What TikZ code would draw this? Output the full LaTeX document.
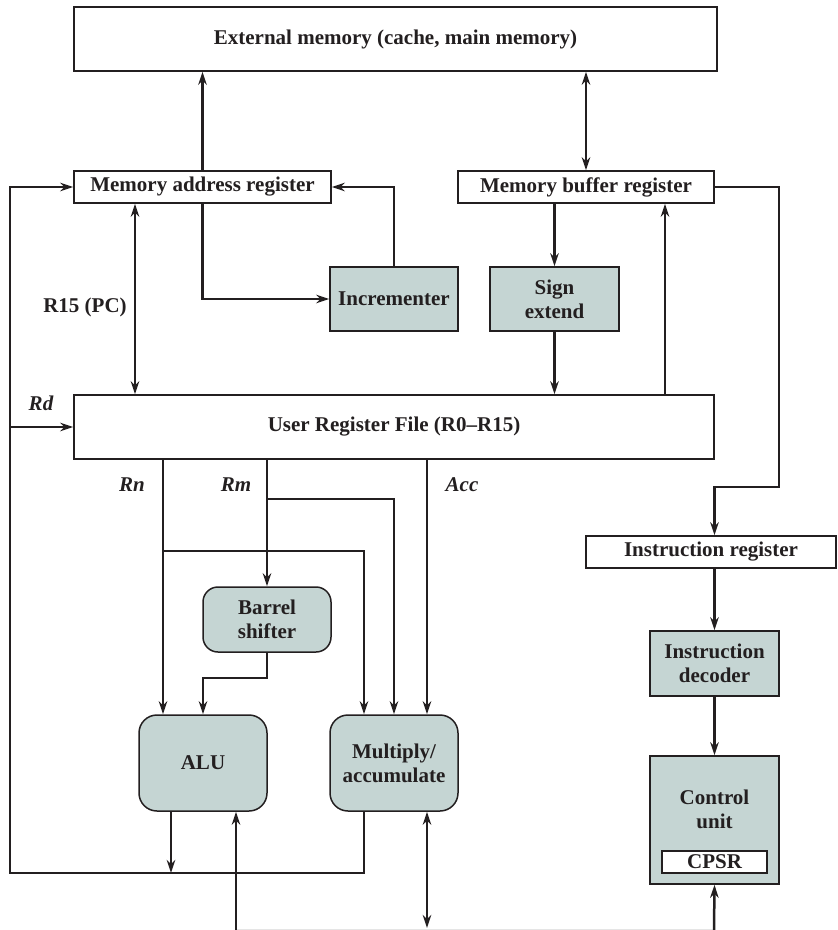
\documentclass[tikz,border=0pt]{standalone}
\usepackage{fontspec}
\setmainfont{Liberation Serif}
\usepackage{tikz}
\usetikzlibrary{arrows.meta}

\definecolor{ink}{RGB}{35,31,32}
\definecolor{unitfill}{RGB}{197,213,211}

\begin{document}
\begin{tikzpicture}[
    x=0.5pt, y=-0.5pt,
    >={Stealth[length=6.5pt, width=4.2pt, inset=2pt]},
    reg/.style={draw=ink, line width=0.75pt, fill=white, inner sep=0pt, text=ink, align=center, font=\bfseries\fontsize{10.5}{12}\selectfont},
    unit/.style={reg, fill=unitfill},
    rounit/.style={unit, rounded corners=9pt},
    wire/.style={draw=ink, line width=1.25pt},
    arr/.style={wire, ->},
    dbl/.style={wire, <->},
    lbl/.style={text=ink, font=\bfseries\itshape\fontsize{10.5}{12}\selectfont}
]

\useasboundingbox (0,0) rectangle (837,930);

% Memory side
\node[reg, minimum width=321.5pt, minimum height=32pt] (extmem) at (395.5,39) {External memory (cache, main memory)};
\node[reg, minimum width=128.5pt, minimum height=16pt] (mar) at (202.5,187) {Memory address register};
\node[reg, minimum width=128pt, minimum height=16pt] (mbr) at (586,187) {Memory buffer register};
\node[unit, minimum width=64pt, minimum height=32pt] (incr) at (394,299) {Incrementer};
\node[unit, minimum width=64.5pt, minimum height=32pt] (signext) at (554.5,299) {Sign\\extend};

% Register file
\node[reg, minimum width=320pt, minimum height=32pt] (urf) at (394,427) {User Register File (R0--R15)};

% Datapath units
\node[rounit, rounded corners=7.5pt, minimum width=64pt, minimum height=32.5pt] (barrel) at (267,619.5) {Barrel\\shifter};
\node[rounit, minimum width=64pt, minimum height=48pt] (alu) at (203,763) {ALU};
\node[rounit, minimum width=64pt, minimum height=48pt] (mac) at (394,763) {Multiply/\\accumulate};

% Control side
\node[reg, minimum width=125pt, minimum height=16pt] (ir) at (711,552) {Instruction register};
\node[unit, minimum width=64.5pt, minimum height=32.5pt] (decoder) at (714.5,663.5) {Instruction\\decoder};
\node[unit, minimum width=64.5pt, minimum height=64pt] (ctrl) at (714.5,820) {};
\node[text=ink, align=center, font=\bfseries\fontsize{10.5}{12}\selectfont] (ctrltext) at (714.5,809) {Control\\unit};
\node[reg, minimum width=52.5pt, minimum height=11pt] (cpsr) at (714.5,862) {CPSR};

% Bus labels
\node[text=ink, font=\bfseries\fontsize{10.5}{12}\selectfont] (pclabel) at (85,307) {R15 (PC)};
\node[lbl] (rdlabel) at (41,403) {Rd};
\node[lbl] (rnlabel) at (132,485) {Rn};
\node[lbl] (rmlabel) at (236,485) {Rm};
\node[lbl] (acclabel) at (462,485) {Acc};

% Helper points
\coordinate (fbcorner) at (10,873);
\coordinate (mbrturn) at (779,487);
\coordinate (rnsplit) at (163,551);
\coordinate (rmsplit) at (267,499);
\coordinate (busleft) at (236,930);
\coordinate (busright) at (714,930);

% Memory paths
\draw[arr] (mar.north) -- (mar.north |- extmem.south);
\draw[dbl] (mbr.north) -- (mbr.north |- extmem.south);
\draw[arr] (mar.south) |- (incr.west);
\draw[arr] (incr.north) |- (mar.east);
\draw[arr] (mbr.south -| signext.north) -- (signext.north);
\draw[arr] (signext.south) -- (signext.south |- urf.north);
\draw[arr] ([xshift=39.5pt]mbr.south |- urf.north) -- ([xshift=39.5pt]mbr.south);
\draw[dbl] ([xshift=-33.75pt]mar.south) -- ([xshift=-33.75pt]mar.south |- urf.north);

% Result feedback into the register file
\draw[arr] ([xshift=-15pt]mac.south) |- (fbcorner) |- (mar.west);
\draw[arr] (fbcorner |- urf.west) -- (urf.west);
\draw[arr] ([xshift=-16pt]alu.south) -- ([xshift=-16pt]alu.south |- fbcorner);

% Operand buses
\draw[arr] ([xshift=-20pt]alu.north |- urf.south) -- ([xshift=-20pt]alu.north);
\draw[arr] (rnsplit) -| ([xshift=-15pt]mac.north);
\draw[arr] (barrel.north |- urf.south) -- (barrel.north);
\draw[arr] (rmsplit) -| (mac.north);
\draw[arr] ([xshift=16.5pt]mac.north |- urf.south) -- ([xshift=16.5pt]mac.north);
\draw[arr] (barrel.south) -- ++(0,25) -| (alu.north);

% Instruction path
\draw[arr] (mbr.east) -| (mbrturn) -| (decoder.north |- ir.north);
\draw[arr] (decoder.north |- ir.south) -- (decoder.north);
\draw[arr] (decoder.south) -- (ctrl.north);

% Bottom bus
\draw[black!10, line width=0.6pt] ([yshift=0.4pt]busleft) -- ([yshift=0.4pt]busright);
\draw[arr] ([xshift=16.5pt]alu.south |- busleft) -- ([xshift=16.5pt]alu.south);
\draw[dbl] ([xshift=16.5pt]mac.south) -- ([xshift=16.5pt,yshift=1pt]mac.south |- busleft);
\draw[arr] (busright) -- (ctrl.south);

\end{tikzpicture}
\end{document}
